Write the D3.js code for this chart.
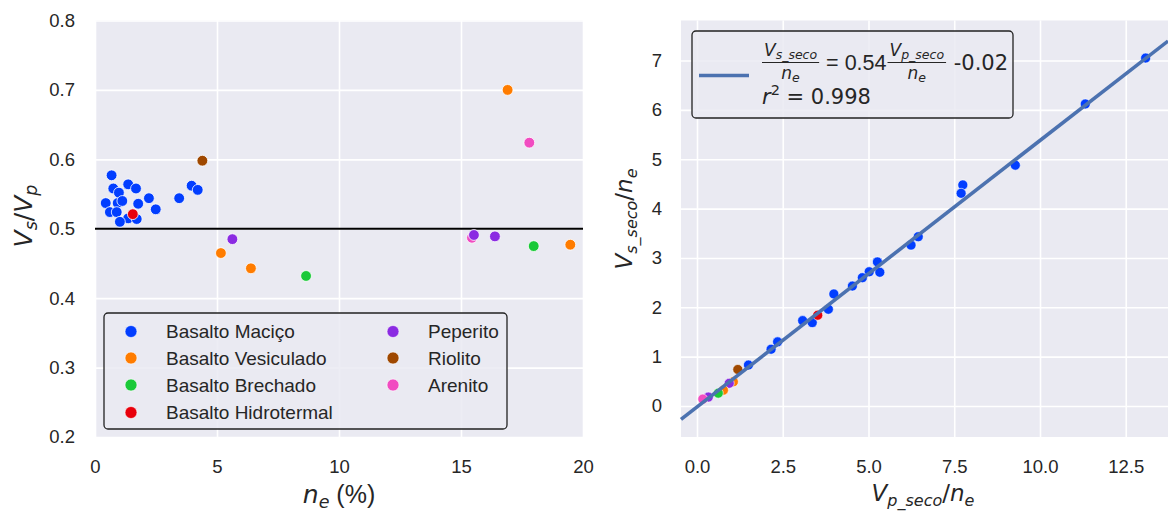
<!DOCTYPE html>
<html><head><meta charset="utf-8">
<script src="https://cdn.jsdelivr.net/npm/d3@7"></script>
<style>body{margin:0;background:#fff;} svg{display:block;}</style>
</head><body>
<svg id="chart" width="1168" height="512"></svg>
<script>
// ---------- DATA ----------
const categories = ["Basalto Maciço","Basalto Vesiculado","Basalto Brechado","Basalto Hidrotermal","Peperito","Riolito","Arenito"];
const palette = ["#023eff","#ff7c00","#1ac938","#e8000b","#8b2be2","#9f4800","#f14cc1"];

// Left panel: porosity n_e (%) vs Vs/Vp
const leftCat = [
  "Basalto Maciço","Basalto Maciço","Basalto Maciço","Basalto Maciço","Basalto Maciço","Basalto Maciço","Basalto Maciço",
  "Basalto Maciço","Basalto Maciço","Basalto Maciço","Basalto Maciço","Basalto Maciço","Basalto Maciço","Basalto Maciço",
  "Basalto Maciço","Basalto Maciço","Basalto Maciço","Basalto Maciço","Basalto Maciço",
  "Basalto Hidrotermal","Riolito","Arenito","Peperito","Peperito","Peperito","Arenito",
  "Basalto Vesiculado","Basalto Vesiculado","Basalto Vesiculado","Basalto Vesiculado",
  "Basalto Brechado","Basalto Brechado"
];
const leftNe = [
  0.93,1.36,0.44,0.68,0.75,0.98,1.36,
  1.68,1.12,0.61,0.89,1.02,1.71,1.77,
  2.21,2.49,3.45,3.96,4.21,
  1.55,4.40,15.45,5.63,15.53,16.39,17.80,
  5.16,6.39,16.91,19.48,
  8.65,17.98
];
const leftRatio = [
  0.537,0.515,0.537,0.577,0.558,0.552,0.564,
  0.558,0.540,0.524,0.524,0.510,0.514,0.536,
  0.544,0.528,0.544,0.562,0.556,
  0.521,0.598,0.487,0.485,0.491,0.489,0.624,
  0.465,0.443,0.700,0.477,
  0.432,0.475
];
const leftXTicks = [0,5,10,15,20];
const leftYTicks = [0.2,0.3,0.4,0.5,0.6,0.7,0.8];
const refRatio = 0.5;

// Right panel: Vp_seco/n_e vs Vs_seco/n_e
const rightCat = [
  "Basalto Maciço","Basalto Maciço","Basalto Maciço","Basalto Maciço","Basalto Maciço","Basalto Maciço","Basalto Maciço",
  "Basalto Maciço","Basalto Maciço","Basalto Maciço","Basalto Maciço","Basalto Maciço","Basalto Maciço","Basalto Maciço",
  "Basalto Maciço","Basalto Maciço","Basalto Maciço","Basalto Maciço","Basalto Maciço",
  "Basalto Hidrotermal","Riolito","Basalto Vesiculado","Peperito","Basalto Vesiculado","Basalto Brechado","Peperito","Arenito"
];
const rightVp = [
  13.08,11.32,9.28,7.75,7.70,6.45,6.24,
  5.26,5.33,5.02,4.82,4.53,3.99,3.83,
  3.08,3.36,2.35,2.16,1.50,
  3.52,1.19,1.06,0.94,0.77,0.62,0.33,0.17
];
const rightVs = [
  7.05,6.12,4.88,4.48,4.31,3.43,3.26,
  2.92,2.71,2.72,2.60,2.43,2.27,1.96,
  1.73,1.69,1.30,1.15,0.83,
  1.84,0.74,0.49,0.46,0.32,0.26,0.18,0.14
];
const rightXTicks = [0,2.5,5,7.5,10,12.5];
const rightYTicks = [0,1,2,3,4,5,6,7];
const fitSlope = 0.54, fitIntercept = -0.02, fitR2 = 0.998;

// ---------- DRAWING ----------
const svg = d3.select("#chart");
const BG = "#eaeaf2", TXT = "#262626";
const SANS = '"Liberation Sans", Arial, sans-serif';
const MATH = '"DejaVu Sans", sans-serif';
const color = d3.scaleOrdinal().domain(categories).range(palette);

function mathText(g, x, y, parts, anchor) {
  const t = g.append("text").attr("x", x).attr("y", y)
    .attr("text-anchor", anchor || "start").attr("fill", TXT)
    .attr("style", "white-space:pre");
  let cur = 0;
  parts.forEach(p => {
    const sh = p.shift || 0;
    t.append("tspan").text(p.t)
      .attr("font-size", p.size)
      .attr("font-family", p.font || MATH)
      .attr("font-style", p.it ? "italic" : "normal")
      .attr("dy", sh - cur);
    cur = sh;
  });
  return t;
}

function panel(box, xs, ys, xTicks, yTicks, xFmt, yFmt) {
  const g = svg.append("g");
  g.append("rect").attr("x", box.x0).attr("y", box.y0)
    .attr("width", box.x1 - box.x0).attr("height", box.y1 - box.y0).attr("fill", BG);
  const gx = g.append("g").attr("transform", `translate(0,${box.y1})`)
    .call(d3.axisBottom(xs).tickValues(xTicks).tickSize(-(box.y1 - box.y0)).tickFormat(""));
  const gy = g.append("g").attr("transform", `translate(${box.x0},0)`)
    .call(d3.axisLeft(ys).tickValues(yTicks).tickSize(-(box.x1 - box.x0)).tickFormat(""));
  [gx, gy].forEach(a => {
    a.select(".domain").remove();
    a.selectAll("line").attr("stroke", "#fff").attr("stroke-width", 1.6);
  });
  const lx = g.append("g").attr("transform", `translate(0,${box.y1})`)
    .call(d3.axisBottom(xs).tickValues(xTicks).tickSize(0).tickPadding(23).tickFormat(xFmt));
  const ly = g.append("g").attr("transform", `translate(${box.x0},0)`)
    .call(d3.axisLeft(ys).tickValues(yTicks).tickSize(0).tickPadding(box.pad).tickFormat(yFmt));
  [lx, ly].forEach(a => {
    a.select(".domain").remove();
    a.selectAll("text").attr("fill", TXT).attr("font-size", 18.5).attr("font-family", SANS);
  });
  return g;
}

// ---- Left panel ----
const L = {x0: 95, x1: 583, y0: 20.5, y1: 437, pad: 20};
const xL = d3.scaleLinear().domain([0, 20]).range([L.x0, L.x1]);
const yL = d3.scaleLinear().domain([0.2, 0.8]).range([L.y1, L.y0]);
const gL = panel(L, xL, yL, leftXTicks, leftYTicks, d3.format("d"), d3.format(".1f"));

gL.append("line").attr("x1", L.x0).attr("x2", L.x1)
  .attr("y1", yL(refRatio)).attr("y2", yL(refRatio))
  .attr("stroke", "#000").attr("stroke-width", 1.8);

gL.append("g").selectAll("circle").data(leftNe.map((v, i) => i)).join("circle")
  .attr("cx", i => xL(leftNe[i])).attr("cy", i => yL(leftRatio[i])).attr("r", 5.4)
  .attr("fill", i => color(leftCat[i])).attr("stroke", "#fff").attr("stroke-width", 0.8);

// left legend
const leg = gL.append("g");
leg.append("rect").attr("x", 104).attr("y", 313).attr("width", 403).attr("height", 116).attr("rx", 4)
  .attr("fill", BG).attr("fill-opacity", 0.85).attr("stroke", "#222").attr("stroke-width", 1.3);
const legPos = [[131,331.5],[131,358],[131,385],[131,412.5],[393,331.5],[393,358],[393,385]];
categories.forEach((c, i) => {
  const [mx, my] = legPos[i];
  leg.append("circle").attr("cx", mx).attr("cy", my).attr("r", 6).attr("fill", color(c))
    .attr("stroke", "#fff").attr("stroke-width", 0.6);
  leg.append("text").attr("x", mx + 35).attr("y", my + 6.5).text(c)
    .attr("fill", TXT).attr("font-size", 19).attr("font-family", SANS);
});

// left axis labels
const yl1 = svg.append("g").attr("transform", "translate(32,216) rotate(-90)");
mathText(yl1, 0, 0, [
  {t:"V", it:true, size:25}, {t:"s", it:true, size:17.5, shift:5},
  {t:"/", size:25}, {t:"V", it:true, size:25}, {t:"p", it:true, size:17.5, shift:5}
], "middle");
mathText(svg, 339, 503, [
  {t:"n", it:true, size:25}, {t:"e", it:true, size:17.5, shift:5},
  {t:" (%)", size:25, font:SANS}
], "middle");

// ---- Right panel ----
const R = {x0: 681, x1: 1168, y0: 20.5, y1: 437, pad: 19};
const xR = d3.scaleLinear().domain([(681 - 697) / 34.3, (1168 - 697) / 34.3]).range([R.x0, R.x1]);
const yR = d3.scaleLinear().domain([(406 - 437) / 49.35, (406 - 20.5) / 49.35]).range([R.y1, R.y0]);
const gR = panel(R, xR, yR, rightXTicks, rightYTicks, d3.format(".1f"), d3.format("d"));

gR.append("g").selectAll("circle").data(rightVp.map((v, i) => i)).join("circle")
  .attr("cx", i => xR(rightVp[i])).attr("cy", i => yR(rightVs[i])).attr("r", 5)
  .attr("fill", i => color(rightCat[i])).attr("stroke", "#fff").attr("stroke-width", 0.6);

const xd = xR.domain();
gR.append("line")
  .attr("x1", xR(xd[0])).attr("y1", yR(fitSlope * xd[0] + fitIntercept))
  .attr("x2", xR(xd[1])).attr("y2", yR(fitSlope * xd[1] + fitIntercept))
  .attr("stroke", "#4c72b0").attr("stroke-width", 3.6);

// right legend
const leg2 = gR.append("g");
leg2.append("rect").attr("x", 692).attr("y", 31).attr("width", 321).attr("height", 87).attr("rx", 4)
  .attr("fill", BG).attr("fill-opacity", 0.85).attr("stroke", "#222").attr("stroke-width", 1.3);
leg2.append("line").attr("x1", 699).attr("x2", 749).attr("y1", 75.5).attr("y2", 75.5)
  .attr("stroke", "#4c72b0").attr("stroke-width", 3.6);

function frac(g, x, sub) {
  const num = mathText(g, 0, 56, [
    {t:"V", it:true, size:17}, {t:sub, it:true, size:12.5, shift:3}
  ], "middle");
  const den = mathText(g, 0, 78.5, [
    {t:"n", it:true, size:17}, {t:"e", it:true, size:12.5, shift:3}
  ], "middle");
  const w = Math.max(num.node().getComputedTextLength(), den.node().getComputedTextLength()) + 4;
  num.attr("x", x + w / 2); den.attr("x", x + w / 2);
  g.append("line").attr("x1", x).attr("x2", x + w).attr("y1", 62.5).attr("y2", 62.5)
    .attr("stroke", TXT).attr("stroke-width", 1);
  return x + w;
}
let cx = frac(leg2, 762, "s_seco");
const eq1 = leg2.append("text").attr("x", cx + 1).attr("y", 70).attr("style", "white-space:pre")
  .text(" = " + fitSlope.toFixed(2)).attr("fill", TXT).attr("font-size", 21.5).attr("font-family", SANS);
cx = cx + 1 + eq1.node().getComputedTextLength() + 1;
cx = frac(leg2, cx, "p_seco");
leg2.append("text").attr("x", cx + 1).attr("y", 70).attr("style", "white-space:pre")
  .text(" " + fitIntercept.toFixed(2)).attr("fill", TXT).attr("font-size", 21).attr("font-family", MATH);
mathText(leg2, 762, 104, [
  {t:"r", it:true, size:21}, {t:"2", size:14.5, shift:-9},
  {t:" = " + fitR2.toFixed(3), size:21, shift:0}
]);

// right axis labels
const yl2 = svg.append("g").attr("transform", "translate(632,219) rotate(-90)");
mathText(yl2, 0, 0, [
  {t:"V", it:true, size:23}, {t:"s_seco", it:true, size:16, shift:5},
  {t:"/", size:23}, {t:"n", it:true, size:23}, {t:"e", it:true, size:16, shift:5}
], "middle");
mathText(svg, 923, 501, [
  {t:"V", it:true, size:23}, {t:"p_seco", it:true, size:16, shift:5},
  {t:"/", size:23}, {t:"n", it:true, size:23}, {t:"e", it:true, size:16, shift:5}
], "middle");
</script>
</body></html>
